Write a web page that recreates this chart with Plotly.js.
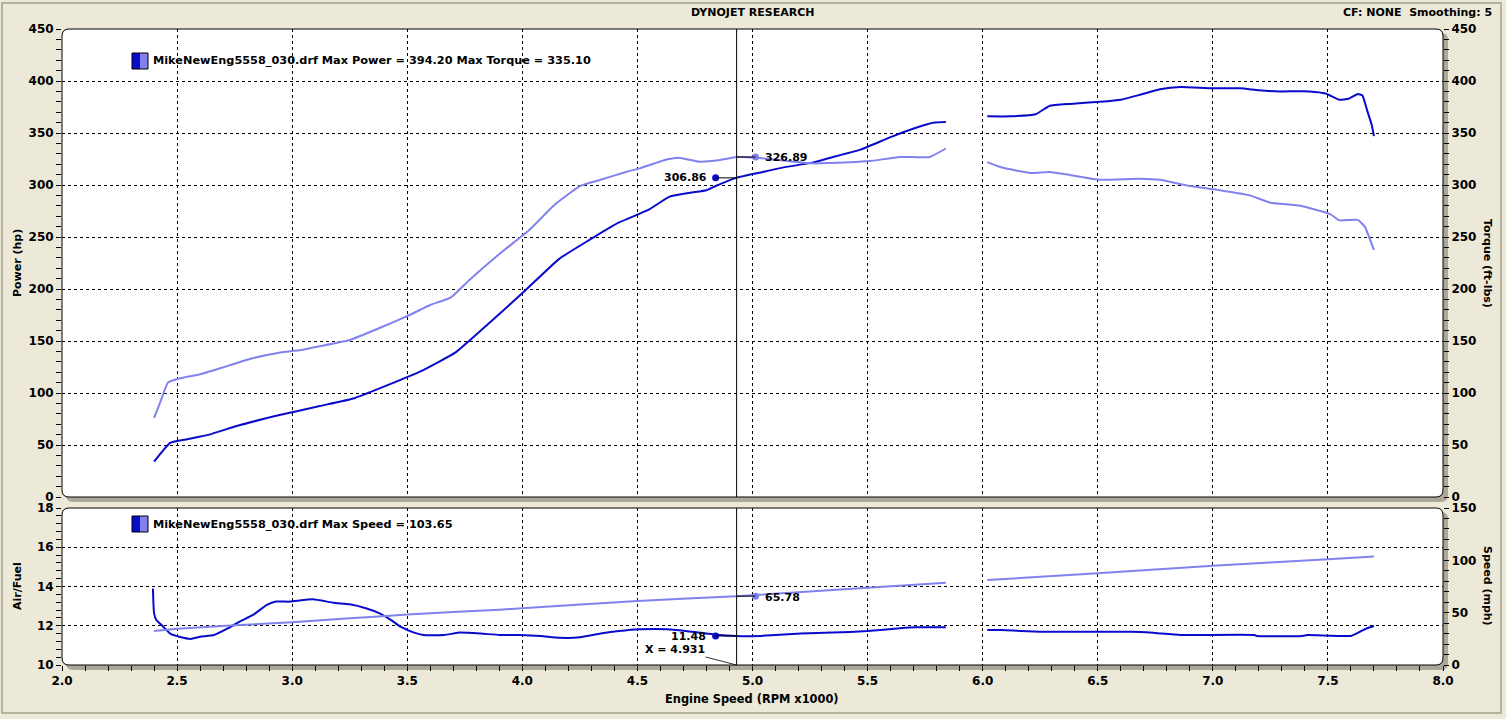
<!DOCTYPE html>
<html><head><meta charset="utf-8">
<script src="https://cdn.plot.ly/plotly-3.0.1.min.js"></script>
<style>html,body{margin:0;padding:0;background:#ECE9D8;} #chart{width:1506px;height:719px;}</style>
</head><body><div id="chart"></div>
<script>
// ---------- DATA ----------
const powerRpm = [2.40,2.47,2.53,2.64,2.77,2.95,3.12,3.27,3.42,3.56,3.71,3.86,4.01,4.16,4.29,4.42,4.547,4.64,4.73,4.80,4.84,4.93,5.03,5.13,5.26,5.35,5.42,5.47,5.60,5.71,5.79,5.84,5.93,6.02,6.12,6.23,6.29,6.38,6.51,6.60,6.68,6.77,6.86,6.99,7.12,7.20,7.29,7.42,7.49,7.55,7.59,7.63,7.65,7.67,7.69,7.70];
const powerHp  = [34,52,55,60,69,79,87.5,95,108,121,139,168,198,229,247,264,276,288.8,292.6,295,299,306.86,311.8,316.7,321.5,327,331,334,346,355,360,360.5,null,366,366,368,376,378,380,382,386.5,392,394.2,393,393,391,390,390,388,382,383,387.5,386,372,358,347];
const torqueRpm = [2.40,2.43,2.46,2.51,2.60,2.69,2.82,2.95,3.03,3.12,3.25,3.38,3.51,3.60,3.69,3.77,3.90,4.03,4.14,4.25,4.34,4.45,4.51,4.63,4.68,4.77,4.86,4.93,5.02,5.15,5.26,5.42,5.51,5.64,5.77,5.84,5.93,6.02,6.08,6.21,6.29,6.38,6.51,6.68,6.77,6.90,7.03,7.16,7.25,7.38,7.51,7.55,7.63,7.66,7.70];
const torqueFt  = [76,93,110,114,118,124,133,139,141,145,151,162.5,175,184.6,192,208.7,233.6,256.7,281,299,305,312.5,316,324.7,326.3,322.4,324,326.89,326.3,323,320.8,321.8,323,327,327,335.1,null,322,317,311.5,312.5,309.6,305,306,305,299,295,290,283,280,272,266,266.5,260,237.5];
const afrRpm = [2.395,2.40,2.41,2.44,2.47,2.51,2.56,2.60,2.66,2.72,2.77,2.83,2.89,2.93,2.99,3.09,3.18,3.25,3.32,3.38,3.43,3.47,3.53,3.57,3.66,3.73,3.82,3.90,3.99,4.08,4.16,4.25,4.34,4.42,4.51,4.63,4.71,4.83,4.93,5.03,5.10,5.21,5.35,5.50,5.64,5.71,5.84,5.93,6.02,6.08,6.25,6.65,6.71,6.77,6.86,7.18,7.19,7.39,7.41,7.60,7.64,7.67,7.70];
const afrVal = [13.9,12.63,12.29,11.95,11.6,11.44,11.33,11.44,11.53,11.87,12.2,12.55,13.06,13.23,13.23,13.35,13.17,13.09,12.89,12.63,12.29,11.95,11.65,11.53,11.53,11.65,11.6,11.53,11.53,11.48,11.39,11.41,11.6,11.73,11.82,11.82,11.73,11.56,11.48,11.48,11.53,11.6,11.65,11.73,11.87,11.92,11.92,null,11.78,11.78,11.7,11.7,11.67,11.61,11.53,11.53,11.48,11.48,11.53,11.48,11.70,11.87,11.99];
const speedRpm = [2.40,2.50,2.75,3.00,3.25,3.50,3.90,4.00,4.50,4.93,5.50,5.84,5.93,6.02,6.50,7.00,7.50,7.70];
const speedMph = [32.5,34.7,37.9,40.8,44.6,48.2,52.9,54.2,61.1,65.78,73.8,78.6,null,81.2,87.6,94.9,101.1,103.65];

const cursorX = 4.931;
const cursorPower = 306.86, cursorTorque = 326.89, cursorAfr = 11.48, cursorSpeed = 65.78;
const fileName = "MikeNewEng5558_030.drf";
const maxPower = "394.20", maxTorque = "335.10", maxSpeed = "103.65";
const xTickVals = [2,2.5,3,3.5,4,4.5,5,5.5,6,6.5,7,7.5,8];

// ---------- STYLE / GEOMETRY ----------
const DARK = '#0A0ACC', LIGHT = '#8282EE', SHADOW = '#ACA899', BG = '#ECE9D8';
const FONT = 'DejaVu Sans';
const L = 62, R = 1443, T = 29, B = 665;
const W = R - L, H = B - T;
const px = v => (v - L) / W;
const py = v => (B - v) / H;
const topDom = [py(497), 1];
const botDom = [0, py(508)];

function roundRect(x0, y0, x1, y1, r) {
  const P = (x, y) => px(x) + ',' + py(y);
  return 'M' + P(x0 + r, y0) + ' L' + P(x1 - r, y0) + ' Q' + P(x1, y0) + ' ' + P(x1, y0 + r) +
    ' L' + P(x1, y1 - r) + ' Q' + P(x1, y1) + ' ' + P(x1 - r, y1) +
    ' L' + P(x0 + r, y1) + ' Q' + P(x0, y1) + ' ' + P(x0, y1 - r) +
    ' L' + P(x0, y0 + r) + ' Q' + P(x0, y0) + ' ' + P(x0 + r, y0) + ' Z';
}
function pRect(x0, y0, x1, y1, fill, line) {
  return {type: 'rect', xref: 'paper', yref: 'paper', x0: px(x0), x1: px(x1), y0: py(y1), y1: py(y0),
    fillcolor: fill, line: line || {width: 0}, layer: 'below'};
}

const dL = 21 / (W / 6), dR = 19 / (W / 6);

const shapes = [
  {type: 'rect', xref: 'paper', yref: 'paper', x0: px(2), x1: px(1501), y0: py(713), y1: py(3),
   line: {color: '#B5B19F', width: 2}, layer: 'below'},
  {type: 'path', xref: 'paper', yref: 'paper', path: roundRect(66, 33, 1448, 502, 7), fillcolor: SHADOW, line: {width: 0}, layer: 'below'},
  {type: 'path', xref: 'paper', yref: 'paper', path: roundRect(62, 29, 1443, 497, 7), fillcolor: '#FFFFFF', line: {width: 0}, layer: 'below'},
  {type: 'path', xref: 'paper', yref: 'paper', path: roundRect(66, 512, 1448, 670, 7), fillcolor: SHADOW, line: {width: 0}, layer: 'below'},
  {type: 'path', xref: 'paper', yref: 'paper', path: roundRect(62, 508, 1443, 665, 7), fillcolor: '#FFFFFF', line: {width: 0}, layer: 'below'},
  {type: 'path', xref: 'paper', yref: 'paper', path: roundRect(62, 29, 1443, 497, 7), line: {color: '#000', width: 1}, layer: 'above'},
  {type: 'path', xref: 'paper', yref: 'paper', path: roundRect(62, 508, 1443, 665, 7), line: {color: '#000', width: 1}, layer: 'above'},
  pRect(132, 53, 140, 69, DARK, {width: 0}),
  pRect(140, 53, 148, 69, LIGHT, {width: 0}),
  {type: 'rect', xref: 'paper', yref: 'paper', x0: px(132), x1: px(148), y0: py(69), y1: py(53), line: {color: '#000', width: 1}, layer: 'above'},
  pRect(132, 516, 140, 532, DARK, {width: 0}),
  pRect(140, 516, 148, 532, LIGHT, {width: 0}),
  {type: 'rect', xref: 'paper', yref: 'paper', x0: px(132), x1: px(148), y0: py(532), y1: py(516), line: {color: '#000', width: 1}, layer: 'above'},
  {type: 'line', xref: 'x', yref: 'paper', x0: cursorX, x1: cursorX, y0: topDom[0], y1: topDom[1], line: {color: '#000', width: 1}},
  {type: 'line', xref: 'x2', yref: 'paper', x0: cursorX, x1: cursorX, y0: botDom[0], y1: botDom[1], line: {color: '#000', width: 1}},
  {type: 'line', xref: 'x', yref: 'y', x0: cursorX - dL, x1: cursorX, y0: cursorPower, y1: cursorPower, line: {color: '#000', width: 1}},
  {type: 'line', xref: 'x', yref: 'y2', x0: cursorX, x1: cursorX + dR, y0: cursorTorque, y1: cursorTorque, line: {color: '#000', width: 1}},
  {type: 'line', xref: 'x2', yref: 'y3', x0: cursorX - dL, x1: cursorX, y0: cursorAfr, y1: cursorAfr, line: {color: '#000', width: 1}},
  {type: 'line', xref: 'x2', yref: 'y4', x0: cursorX, x1: cursorX + dR, y0: cursorSpeed, y1: cursorSpeed, line: {color: '#000', width: 1}}
];

const boldF = (s) => ({family: FONT, size: s, color: '#000', weight: 'bold'});
const ann = (text, x, y, opts) => Object.assign({text, x: px(x), y: py(y), xref: 'paper', yref: 'paper',
  showarrow: false, font: boldF(11), xanchor: 'center', yanchor: 'middle'}, opts || {});

const annotations = [
  ann('DYNOJET RESEARCH', 752, 12),
  ann('CF: NONE\u00A0\u00A0Smoothing: 5', 1494, 12, {xanchor: 'right'}),
  ann(fileName + ' Max Power = ' + maxPower + '\u00A0Max Torque = ' + maxTorque, 151, 61, {xanchor: 'left', font: boldF(11.3)}),
  ann(fileName + ' Max Speed = ' + maxSpeed, 151, 524, {xanchor: 'left', font: boldF(11.3)}),
  ann('Power (hp)', 17, 263, {textangle: -90}),
  ann('Torque (ft-lbs)', 1488, 263, {textangle: 90}),
  ann('Air/Fuel', 17, 586, {textangle: -90}),
  ann('Speed (mph)', 1488, 586, {textangle: 90}),
  ann('Engine Speed (RPM x1000)', 752, 699, {font: boldF(11.4)}),
  {text: cursorPower.toFixed(2), x: cursorX - dL, y: cursorPower, xref: 'x', yref: 'y', showarrow: false,
   xanchor: 'right', xshift: -7, font: boldF(11)},
  {text: cursorTorque.toFixed(2), x: cursorX + dR, y: cursorTorque, xref: 'x', yref: 'y2', showarrow: false,
   xanchor: 'left', xshift: 7, font: boldF(11)},
  {text: cursorAfr.toFixed(2), x: cursorX - dL, y: cursorAfr, xref: 'x2', yref: 'y3', showarrow: false,
   xanchor: 'right', xshift: -8, yshift: -1, font: boldF(11)},
  {text: cursorSpeed.toFixed(2), x: cursorX + dR, y: cursorSpeed, xref: 'x2', yref: 'y4', showarrow: false,
   xanchor: 'left', xshift: 7, yshift: -1, font: boldF(11)},
  {text: 'X = ' + cursorX.toFixed(3), x: cursorX, y: 10, xref: 'x2', yref: 'y3', showarrow: true,
   arrowhead: 0, arrowwidth: 0.8, arrowcolor: '#000', ax: -62, ay: -16, font: boldF(11)}
];

const line = (x, y, color, xa, ya) => ({x, y, xaxis: xa, yaxis: ya, type: 'scatter', mode: 'lines',
  line: {color, width: 2, shape: 'spline', smoothing: 0.4}, connectgaps: false, hoverinfo: 'skip'});
const dot = (x, y, color, xa, ya) => ({x: [x], y: [y], xaxis: xa, yaxis: ya, type: 'scatter', mode: 'markers',
  marker: {color, size: 7}, hoverinfo: 'skip'});

const traces = [
  line(torqueRpm, torqueFt, LIGHT, 'x', 'y2'),
  line(powerRpm, powerHp, DARK, 'x', 'y'),
  line(speedRpm, speedMph, LIGHT, 'x2', 'y4'),
  line(afrRpm, afrVal, DARK, 'x2', 'y3'),
  dot(cursorX - dL, cursorPower, DARK, 'x', 'y'),
  dot(cursorX + dR, cursorTorque, LIGHT, 'x', 'y2'),
  dot(cursorX - dL, cursorAfr, DARK, 'x2', 'y3'),
  dot(cursorX + dR, cursorSpeed, LIGHT, 'x2', 'y4')
];

const grid = {showgrid: true, gridcolor: '#000', gridwidth: 1, griddash: '3px,3px'};
const tickStyle = {ticks: 'outside', ticklen: 5, tickcolor: '#000', tickwidth: 1, tickfont: boldF(12), zeroline: false, showline: false};

const layout = {
  width: 1506, height: 719,
  margin: {l: L, r: 1506 - R, t: T, b: 719 - B, pad: 0},
  paper_bgcolor: BG, plot_bgcolor: 'rgba(0,0,0,0)',
  showlegend: false,
  xaxis: Object.assign({}, grid, {domain: [0, 1], anchor: 'y', range: [2, 8], tickvals: xTickVals,
    showticklabels: false, ticks: '', zeroline: false, showline: false}),
  xaxis2: Object.assign({}, grid, tickStyle, {domain: [0, 1], anchor: 'y3', range: [2, 8], tickvals: xTickVals,
    tickformat: '.1f', minor: {dtick: 0.1, tick0: 2, ticks: 'outside', ticklen: 5, tickcolor: '#000', showgrid: false}}),
  yaxis: Object.assign({}, grid, tickStyle, {domain: topDom, anchor: 'x', range: [0, 450], dtick: 50, tick0: 0,
    minor: {dtick: 10, tick0: 0, ticks: 'outside', ticklen: 5, tickcolor: '#000', showgrid: false}}),
  yaxis2: Object.assign({}, tickStyle, {overlaying: 'y', side: 'right', anchor: 'x', range: [0, 450], dtick: 50, tick0: 0,
    showgrid: false, minor: {dtick: 10, tick0: 0, ticks: 'outside', ticklen: 5, tickcolor: '#000', showgrid: false}}),
  yaxis3: Object.assign({}, grid, tickStyle, {domain: botDom, anchor: 'x2', range: [10, 18], dtick: 2, tick0: 10,
    minor: {dtick: 0.4, tick0: 10, ticks: 'outside', ticklen: 5, tickcolor: '#000', showgrid: false}}),
  yaxis4: Object.assign({}, tickStyle, {overlaying: 'y3', side: 'right', anchor: 'x2', range: [0, 150], dtick: 50, tick0: 0,
    showgrid: false, minor: {dtick: 10, tick0: 0, ticks: 'outside', ticklen: 5, tickcolor: '#000', showgrid: false}}),
  shapes, annotations
};

Plotly.newPlot('chart', traces, layout, {staticPlot: true, displayModeBar: false});
</script>
</body></html>
